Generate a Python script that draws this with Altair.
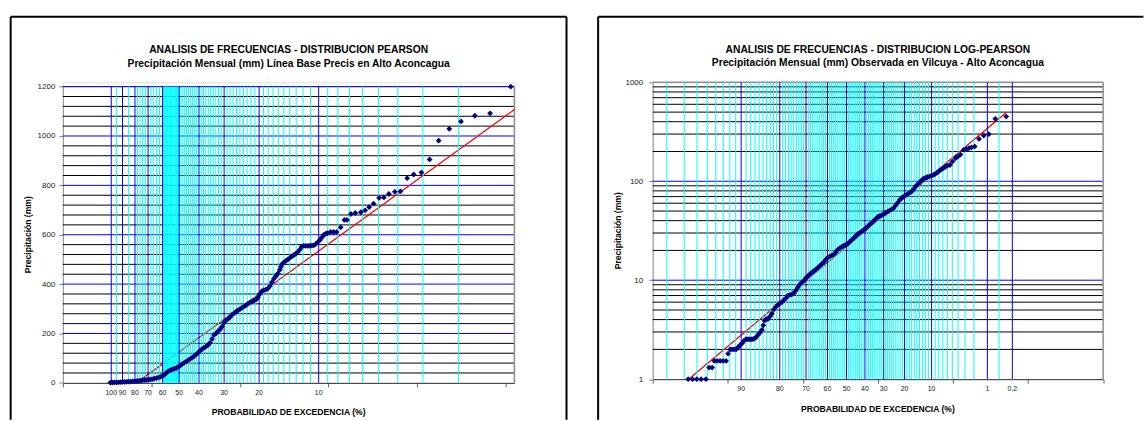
import altair as alt
import pandas as pd
from statistics import NormalDist

FONT = "Liberation Sans"

# ---------------- LEFT PANEL (Pearson) ----------------
left_title = "ANALISIS DE FRECUENCIAS - DISTRIBUCION PEARSON"
left_sub = "Precipitación Mensual (mm) Línea Base Precis en Alto Aconcagua"
left_skew = 1.9
# observed points: frequency factor K and monthly precipitation (mm)
left_k = [-1.063, -1.041, -1.018, -0.995, -0.973, -0.950, -0.928, -0.905, -0.883, -0.860,
          -0.838, -0.815, -0.793, -0.770, -0.748, -0.725, -0.703, -0.680, -0.658, -0.635,
          -0.613, -0.590, -0.568, -0.545, -0.523, -0.500, -0.477, -0.455, -0.432, -0.410,
          -0.387, -0.365, -0.342, -0.320, -0.297, -0.275, -0.252, -0.230, -0.207, -0.185,
          -0.162, -0.140, -0.117, -0.095, -0.072, -0.050, -0.027, -0.005, 0.018, 0.041,
          0.063, 0.086, 0.108, 0.131, 0.153, 0.176, 0.198, 0.221, 0.243, 0.266,
          0.288, 0.311, 0.333, 0.356, 0.378, 0.401, 0.423, 0.446, 0.468, 0.491,
          0.514, 0.536, 0.559, 0.581, 0.604, 0.626, 0.649, 0.671, 0.694, 0.716,
          0.739, 0.761, 0.784, 0.806, 0.829, 0.851, 0.863, 0.874, 0.896, 0.919,
          0.941, 0.964, 0.986, 1.009, 1.032, 1.054, 1.077, 1.099, 1.122, 1.144,
          1.167, 1.189, 1.212, 1.234, 1.257, 1.279, 1.302, 1.324, 1.347, 1.369,
          1.392, 1.426, 1.459, 1.493, 1.538, 1.580, 1.609, 1.654, 1.704, 1.766,
          1.815, 1.860, 1.910, 1.972, 2.026, 2.083, 2.150, 2.214, 2.289, 2.363,
          2.450, 2.543, 2.645, 2.765, 2.897, 3.054, 3.226, 3.459]
left_p = [1, 1, 2, 2, 2, 3, 3, 4, 4, 5,
          5, 6, 6, 7, 8, 9, 10, 11, 12, 13,
          14, 15, 17, 19, 21, 24, 27, 32, 40, 47,
          51, 54, 57, 60, 65, 70, 76, 81, 86, 92,
          97, 102, 108, 115, 122, 130, 137, 142, 148, 153,
          162, 178, 194, 201, 209, 217, 228, 243, 253, 259,
          266, 276, 282, 288, 294, 299, 304, 309, 314, 320,
          326, 329, 333, 337, 346, 360, 371, 375, 378, 382,
          392, 408, 422, 432, 443, 458, 470, 480, 488, 494,
          500, 506, 512, 518, 523, 530, 540, 552, 555, 555,
          555, 555, 556, 557, 562, 570, 578, 588, 599, 604,
          607, 611, 611, 611, 630, 660, 660, 684, 688, 691,
          699, 712, 726, 749, 751, 765, 774, 776, 829, 844,
          852, 905, 981, 1029, 1059, 1082, 1092, 1200]
left_fit_k = [-0.77, 3.5]
left_fit_p = [0, 1107]
left_blue = [99.9, 90, 80, 70, 60, 50, 40, 30, 20, 10]
left_cyan = [95, 85, 78, 76, 74, 72, 68, 66, 64, 62,
             59.5, 59, 58.5, 58, 57.5, 57, 56.5, 56, 55.5, 55, 54.5, 54, 53.5, 53,
             52.5, 52, 51.5, 51, 50.5,
             49, 48, 47, 46, 45, 44, 43, 42, 41,
             39, 38, 37, 36, 35, 34, 33, 32, 31,
             29, 28, 27, 26, 25, 24, 23, 22, 21,
             19, 18, 17, 16, 15, 14, 13, 12, 11,
             9, 8, 7, 6, 5, 4, 3, 2]
left_label_p = [99.9, 90, 80, 70, 60, 50, 40, 30, 20, 10]
left_label_t = ["100", "90", "80", "70", "60", "50", "40", "30", "20", "10"]
left_minor_y = [v for v in range(40, 1200, 40) if v % 200 != 0]
left_major_y = [200, 400, 600, 800, 1000, 1200]

# ---------------- RIGHT PANEL (Log-Pearson) ----------------
right_title = "ANALISIS DE FRECUENCIAS - DISTRIBUCION LOG-PEARSON"
right_sub = "Precipitación Mensual (mm) Observada en Vilcuya - Alto Aconcagua"
right_skew = -0.5
right_k = [-2.027, -1.969, -1.912, -1.855, -1.791, -1.748, -1.708, -1.679, -1.642, -1.602,
           -1.562, -1.522, -1.496, -1.469, -1.443, -1.416, -1.389, -1.363, -1.336, -1.310,
           -1.283, -1.257, -1.230, -1.204, -1.177, -1.150, -1.124, -1.097, -1.071, -1.044,
           -1.027, -1.011, -0.991, -0.964, -0.938, -0.911, -0.885, -0.858, -0.831, -0.805,
           -0.778, -0.752, -0.725, -0.699, -0.672, -0.646, -0.619, -0.593, -0.566, -0.539,
           -0.513, -0.486, -0.460, -0.433, -0.407, -0.380, -0.354, -0.327, -0.301, -0.274,
           -0.247, -0.221, -0.194, -0.168, -0.141, -0.115, -0.088, -0.061, -0.035, -0.008,
           0.019, 0.045, 0.072, 0.098, 0.125, 0.151, 0.178, 0.205, 0.231, 0.258,
           0.284, 0.311, 0.337, 0.364, 0.391, 0.417, 0.444, 0.470, 0.497, 0.523,
           0.550, 0.577, 0.603, 0.630, 0.656, 0.683, 0.709, 0.736, 0.763, 0.789,
           0.816, 0.842, 0.869, 0.895, 0.922, 0.949, 0.975, 1.002, 1.028, 1.055,
           1.081, 1.108, 1.135, 1.161, 1.188, 1.214, 1.241, 1.267, 1.294, 1.321,
           1.347, 1.374, 1.400, 1.427, 1.460, 1.493, 1.533, 1.566, 1.600, 1.645,
           1.679, 1.712, 1.746, 1.790, 1.847, 1.910, 1.978, 2.064, 2.209]
right_p = [1, 1, 1, 1, 1, 1.31, 1.31, 1.53, 1.53, 1.53,
           1.53, 1.53, 1.81, 2.0, 2.0, 2.0, 2.0, 2.1, 2.2, 2.3,
           2.45, 2.53, 2.53, 2.53, 2.53, 2.55, 2.65, 2.8, 2.95, 3.15,
           3.5, 3.9, 4.03, 4.05, 4.3, 4.6, 5.08, 5.4, 5.65, 5.85,
           6.0, 6.3, 6.6, 7.0, 7.1, 7.2, 7.4, 7.89, 8.5, 9.1,
           9.5, 9.9, 10.5, 11.0, 11.5, 12.0, 12.4, 12.85, 13.4, 14.0,
           14.6, 15.2, 16.2, 16.9, 17.4, 17.8, 18.3, 19.2, 20.4, 21.1,
           21.7, 22.3, 22.8, 23.3, 24.4, 25.6, 26.7, 28.0, 29.3, 30.2,
           31.1, 32.2, 33.3, 35.0, 36.6, 38.2, 39.8, 41.6, 43.6, 44.6,
           45.5, 46.5, 48.0, 49.3, 50.7, 52.0, 53.6, 57.0, 60.5, 64.5,
           68.0, 70.0, 72.3, 74.0, 76.5, 78.8, 83.0, 88.9, 93.0, 98.0,
           102, 106, 108.5, 110.5, 112, 114, 116, 119, 123, 128,
           132, 136, 140, 144, 146, 158, 171, 178, 186, 208,
           212, 216, 220, 225, 268, 290, 299, 428, 451]
right_fit_k = [-2.02, 2.21]
right_fit_p = [1.0, 495]
right_blue = [90, 80, 70, 60, 50, 40, 30, 20, 10, 1, 0.2]
right_cyan = [98, 97, 96, 95, 94, 93, 92, 91,
              89, 88, 87, 86, 85, 84, 83, 82, 81,
              79, 78, 77, 76, 75, 74, 73, 72, 71,
              69, 68, 67, 66, 65, 64, 63, 62, 61,
              59, 58, 57, 56, 55, 54, 53, 52, 51,
              49, 48, 47, 46, 45, 44, 43, 42, 41,
              39, 38, 37, 36, 35, 34, 33, 32, 31,
              29, 28, 27, 26, 25, 24, 23, 22, 21,
              19, 18, 17, 16, 15, 14, 13, 12, 11,
              9, 8, 7, 6, 5, 4, 3, 2, 0.5]
right_label_p = [90, 80, 70, 60, 50, 40, 30, 20, 10, 1, 0.2]
right_label_t = ["90", "80", "70", "60", "50", "40", "30", "20", "10", "1", "0.2"]
right_minor_y = [2, 3, 4, 5, 6, 7, 8, 9, 20, 30, 40, 50, 60, 70, 80, 90,
                 200, 300, 400, 500, 600, 700, 800, 900]
right_major_y = [10, 100]


def kfac(p_exc, g):
    """Pearson III frequency factor (Wilson-Hilferty) for an exceedance probability in %."""
    z = NormalDist().inv_cdf(1 - p_exc / 100.0)
    return (2.0 / g) * ((1 + g * z / 6.0 - g * g / 36.0) ** 3 - 1)


def panel(title, sub, g, ks, ps, fk, fp, blue, cyan, lab_p, lab_t, minor_y, major_y,
          kdom, kticks, ydom, ytype, yvals, w, h, yrange, frame, title_y, lab_y, xt_y,
          ytitle_x, ytitle_y, ylabpad):
    X = lambda f: alt.X(f, type="quantitative",
                        scale=alt.Scale(domain=kdom, nice=False, zero=False),
                        axis=alt.Axis(values=kticks, labels=False, ticks=True, tickSize=4,
                                      tickColor="#606060", domainColor="#303030",
                                      grid=False, title=""))
    Y = lambda f: alt.Y(f, type="quantitative",
                        scale=alt.Scale(domain=ydom, type=ytype, nice=False, zero=False,
                                        range=yrange),
                        axis=alt.Axis(values=yvals, format="d", grid=False, ticks=True,
                                      tickSize=4, tickColor="#808080", domainColor="#909090",
                                      labelFont=FONT, labelFontSize=8, labelColor="#222",
                                      labelPadding=ylabpad, title=""))
    pts = pd.DataFrame({"k": ks, "p": ps})
    fit = pd.DataFrame({"k": fk, "p": fp})
    vb = pd.DataFrame({"k": [kfac(p, g) for p in blue]})
    vc = pd.DataFrame({"k": [kfac(p, g) for p in cyan]})
    labs = pd.DataFrame({"k": [kfac(p, g) for p in lab_p], "t": lab_t})
    hmin = pd.DataFrame({"p": minor_y})
    hmaj = pd.DataFrame({"p": major_y})
    htop = pd.DataFrame({"p": [ydom[1]]})
    edge = pd.DataFrame({"k": [kdom[1]]})
    one = pd.DataFrame({"a": [0]})
    y_lo, y_hi = alt.datum(ydom[0]), alt.datum(ydom[1])

    def txt(s, size, yv, xv=w / 2, angle=0, weight="bold"):
        return alt.Chart(pd.DataFrame({"t": [s]})).mark_text(
            font=FONT, fontSize=size, fontWeight=weight, color="#000", baseline="middle",
            angle=angle).encode(x=alt.value(xv), y=alt.value(yv), text="t:N")

    layers = [
        alt.Chart(hmin).mark_rule(color="#000000", strokeWidth=1).encode(y=Y("p")),
        alt.Chart(htop).mark_rule(color="#909090", strokeWidth=1.5).encode(y=Y("p")),
        alt.Chart(hmaj).mark_rule(color="#0000ff", strokeWidth=1).encode(y=Y("p")),
        alt.Chart(edge).mark_rule(color="#909090", strokeWidth=1.5)
        .encode(x=X("k"), y=y_lo, y2=y_hi),
        alt.Chart(fit).mark_line(color="#ff0000", strokeWidth=1.3).encode(x=X("k"), y=Y("p")),
        alt.Chart(vc).mark_rule(color="#00ffff", strokeWidth=1)
        .encode(x=X("k"), y=y_lo, y2=y_hi),
        alt.Chart(vb).mark_rule(color="#0000ff", strokeWidth=1)
        .encode(x=X("k"), y=y_lo, y2=y_hi),
        alt.Chart(pts).mark_point(shape="diamond", filled=True, color="#000080",
                                  size=34, opacity=1).encode(x=X("k"), y=Y("p")),
        alt.Chart(labs).mark_text(font=FONT, fontSize=7, color="#222", baseline="middle")
        .encode(x=X("k"), y=alt.value(lab_y), text="t:N"),
        txt(title, 10.3, title_y[0]),
        txt(sub, 10.3, title_y[1]),
        txt("PROBABILIDAD DE EXCEDENCIA (%)", 8.6, xt_y),
        txt("Precipitación (mm)", 8.6, ytitle_y, xv=ytitle_x, angle=270),
    ]
    # panel frame: left and top edges always, right edge when given
    fx0, fx1, fy0, fy1 = frame[:4]
    layers += [
        alt.Chart(one).mark_rule(color="#000000", strokeWidth=2)
        .encode(x=alt.value(fx0), y=alt.value(fy0), y2=alt.value(fy1)),
        alt.Chart(one).mark_rule(color="#000000", strokeWidth=2)
        .encode(x=alt.value(fx0), x2=alt.value(fx1), y=alt.value(fy0)),
    ]
    if len(frame) > 4:
        layers.append(alt.Chart(one).mark_rule(color="#000000", strokeWidth=2)
                      .encode(x=alt.value(frame[4]), y=alt.value(fy0), y2=alt.value(fy1)))
    return alt.layer(*layers).properties(width=w, height=h)


# both plot origins share the same top (y = 80.7 px on the page); the left plot's
# scale range starts 4.3 px lower, as in the original
LW, LH = 452.7, 301.3
RW, RH = 451.6, 297.6

left = panel(left_title, left_sub, left_skew, left_k, left_p, left_fit_k, left_fit_p,
             left_blue, left_cyan, left_label_p, left_label_t, left_minor_y, left_major_y,
             [-1.6, 3.5], [-1.6, -0.6, 0.4, 1.4, 2.4, 3.4], [0, 1200], "linear",
             [0, 200, 400, 600, 800, 1000, 1200], LW, LH, [LH, 4.3],
             (-52.3, 505.0, -65.7, 338.3, 505.0), (-32.7, -18.7), 311.6, 330.3,
             -34.8, 152.8, 4)

right = panel(right_title, right_sub, right_skew, right_k, right_p, right_fit_k,
              right_fit_p, right_blue, right_cyan, right_label_p, right_label_t,
              right_minor_y, right_major_y, [-2.5, 3.5],
              [-2.5, -1.5, -0.5, 0.5, 1.5, 2.5, 3.5], [1, 1000], "log",
              [1, 10, 100, 1000], RW, RH, [RH, 0],
              (-54.7, 492.0, -65.7, 338.3), (-32.4, -19.0), 307.0, 327.6,
              -34.6, 148.8, 6)

chart = alt.hconcat(left, right, spacing=27.4, bounds="full").properties(
    padding={"left": 9, "top": 14, "right": 0, "bottom": 0}
).configure_view(strokeWidth=0).configure(background="white")

chart.save("out.html", embed_options={"renderer": "svg", "actions": False})
